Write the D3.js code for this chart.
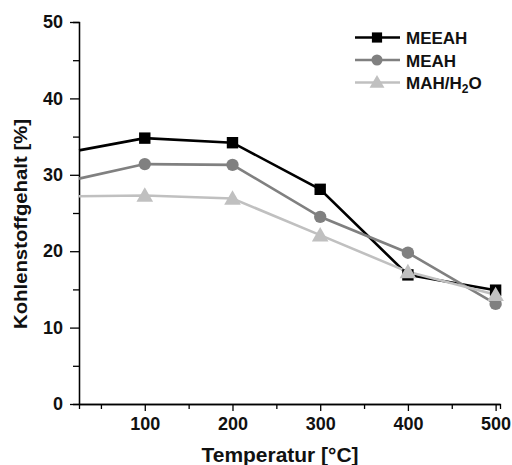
<!DOCTYPE html>
<html><head><meta charset="utf-8">
<script src="https://cdn.jsdelivr.net/npm/d3@7/dist/d3.min.js"></script>
<style>body{margin:0;background:#fff}svg{display:block}text{font-family:"Liberation Sans",Arial,sans-serif;font-weight:bold}</style>
</head><body><svg id="c" width="512" height="465"></svg>
<script>
const temperatures = [25, 100, 200, 300, 400, 500];
const meeah = [33.2, 34.8, 34.2, 28.1, 16.9, 14.9];
const meah  = [29.5, 31.4, 31.3, 24.5, 19.8, 13.1];
const mah   = [27.2, 27.3, 26.9, 22.1, 17.3, 14.3];
const seriesNames = ["MEEAH", "MEAH", "MAH/H2O"];
const xTicks = [100, 200, 300, 400, 500];
const yTicks = [0, 10, 20, 30, 40, 50];

const svg = d3.select("#c");
const x = d3.scaleLinear().domain([25, 505]).range([79, 500]);
const y = d3.scaleLinear().domain([0, 50]).range([404, 22]);

const series = [
  {name: seriesNames[0], values: meeah, color: "#000000", shape: d3.symbolSquare, size: 130},
  {name: seriesNames[1], values: meah, color: "#808080", shape: d3.symbolCircle, size: 120},
  {name: seriesNames[2], values: mah, color: "#c0c0c0", shape: d3.symbolTriangle, size: 120}
];

const xAxisMinor = d3.axisBottom(x).tickValues([50,150,250,350,450]).tickSize(5).tickFormat("");
const xAxis = d3.axisBottom(x).tickValues(xTicks).tickSize(7).tickPadding(6);
const yAxisMinor = d3.axisLeft(y).tickValues([5,15,25,35,45]).tickSize(6).tickFormat("");
const yAxis = d3.axisLeft(y).tickValues(yTicks).tickSize(9).tickPadding(7);

function style(g){
  g.select(".domain").attr("stroke","#000").attr("stroke-width",1.3);
  g.selectAll(".tick line").attr("stroke","#000").attr("stroke-width",1.3);
  g.selectAll("text").attr("font-size",18).attr("fill","#111").attr("font-weight","bold");
}
svg.append("g").attr("transform","translate(0,404)").call(xAxisMinor).call(style);
svg.append("g").attr("transform","translate(0,404)").call(xAxis).call(style).call(g=>g.select(".domain").attr("d","M79,0.5H500"));
svg.append("g").attr("transform","translate(79,0)").call(yAxisMinor).call(style);
svg.append("g").attr("transform","translate(79,0)").call(yAxis).call(style).call(g=>g.select(".domain").attr("d","M0.5,404V22"));

const line = d3.line().x(d=>x(d[0])).y(d=>y(d[1]));
series.forEach(s=>{
  const pts = temperatures.map((t,i)=>[t, s.values[i]]);
  svg.append("path").attr("d", line(pts)).attr("fill","none").attr("stroke",s.color).attr("stroke-width",2.6);
});
series.forEach(s=>{
  const pts = temperatures.map((t,i)=>[t, s.values[i]]).filter(p=>p[0]>=100);
  svg.selectAll(null).data(pts).enter().append("path")
    .attr("d", d3.symbol(s.shape, s.size))
    .attr("transform", d=>`translate(${x(d[0])},${y(d[1]) + (s.shape===d3.symbolTriangle?1.5:0)})`)
    .attr("fill", s.color);
});

const lg = svg.append("g");
series.forEach((s,i)=>{
  const yy = 37.5 + i*22.5;
  lg.append("line").attr("x1",355).attr("x2",400).attr("y1",yy).attr("y2",yy).attr("stroke",s.color).attr("stroke-width",2.6);
  lg.append("path").attr("d", d3.symbol(s.shape, s.size*0.8)).attr("transform",`translate(377,${yy+(s.shape===d3.symbolTriangle?1:0)})`).attr("fill",s.color);
  const t = lg.append("text").attr("x",406).attr("y",yy+6.5).attr("font-size",17).attr("fill","#111");
  if (s.name === "MAH/H2O") {
    t.append("tspan").text("MAH/H");
    t.append("tspan").attr("font-size",12).attr("dy",4).text("2");
    t.append("tspan").attr("dy",-4).text("O");
  } else t.text(s.name);
});

svg.append("text").attr("x",280).attr("y",462).attr("text-anchor","middle").attr("font-size",20).attr("fill","#111").attr("textLength",157).attr("lengthAdjust","spacingAndGlyphs").text("Temperatur [°C]");
svg.append("text").attr("transform","translate(27,224) rotate(-90)").attr("text-anchor","middle").attr("font-size",18).attr("fill","#111").attr("textLength",210).attr("lengthAdjust","spacingAndGlyphs").text("Kohlenstoffgehalt [%]");
</script></body></html>
